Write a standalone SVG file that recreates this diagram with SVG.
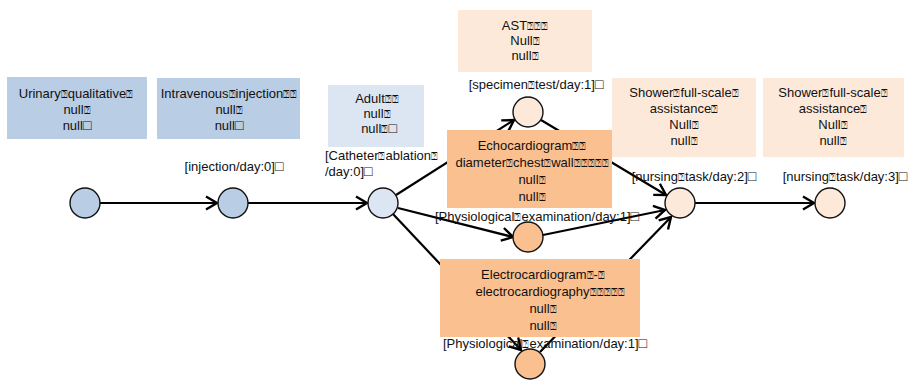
<svg xmlns="http://www.w3.org/2000/svg" width="908" height="380" viewBox="0 0 908 380">
<style>
text{font-family:"Liberation Sans",Arial,sans-serif;font-size:13px;fill:#111}
.c{text-anchor:middle}
.sq{font-size:14px}
.t{font-size:11px}
.edge{stroke:#000;stroke-width:2.2;fill:none;marker-end:url(#ah)}
.nd{stroke:#111;stroke-width:1.4}
.blue{fill:#b9cde5}
.pale{fill:#dce6f2}
.peach{fill:#fde9d9}
.orange{fill:#fac090}
</style>
<defs>
<marker id="ah" markerUnits="userSpaceOnUse" markerWidth="16" markerHeight="16" refX="12" refY="8" orient="auto">
<path d="M1,1.5 L12,8 L1,14.5" fill="none" stroke="#000" stroke-width="2.4"/>
</marker>
</defs>
<g id="connectors">
<line class="edge" x1="100" y1="203" x2="217" y2="203"/>
<line class="edge" x1="248" y1="203" x2="367" y2="203"/>
<line class="edge" x1="396" y1="195" x2="514" y2="120"/>
<line class="edge" x1="398" y1="208" x2="513" y2="237"/>
<line class="edge" x1="393" y1="214" x2="521" y2="350"/>
<line class="edge" x1="541" y1="120" x2="666" y2="195"/>
<line class="edge" x1="543" y1="235" x2="665" y2="210"/>
<line class="edge" x1="540" y1="352" x2="671" y2="217"/>
<line class="edge" x1="695" y1="203" x2="814" y2="203"/>
</g>
<g id="n1">
<rect class="blue" x="7" y="77" width="140" height="62"/>
<text class="c" x="76" y="98">Urinary<tspan class="t">⍰</tspan>qualitative<tspan class="t">⍰</tspan></text>
<text class="c" x="77" y="114">null<tspan class="t">⍰</tspan></text>
<text class="c" x="77" y="130">null<tspan class="sq">□</tspan></text>
<circle class="nd blue" cx="85" cy="203" r="15"/>
</g>
<g id="n2">
<rect class="blue" x="157" y="78" width="143" height="61"/>
<text class="c" x="229" y="98">Intravenous<tspan class="t">⍰</tspan>injection<tspan class="t">⍰⍰</tspan></text>
<text class="c" x="229" y="114">null<tspan class="t">⍰</tspan></text>
<text class="c" x="229" y="130">null<tspan class="sq">□</tspan></text>
<text class="c" x="234" y="171">[injection/day:0]<tspan class="sq">□</tspan></text>
<circle class="nd blue" cx="233" cy="203" r="15"/>
</g>
<g id="n3">
<rect class="pale" x="328" y="85" width="96" height="62"/>
<text class="c" x="377" y="103">Adult<tspan class="t">⍰⍰</tspan></text>
<text class="c" x="377" y="118">null<tspan class="t">⍰</tspan></text>
<text class="c" x="379" y="133">null<tspan class="t">⍰</tspan><tspan class="sq">□</tspan></text>
<text x="325" y="160">[Catheter<tspan class="t">⍰</tspan>ablation<tspan class="t">⍰</tspan></text>
<text x="325" y="176">/day:0]<tspan class="sq">□</tspan></text>
<circle class="nd pale" cx="383" cy="203" r="15"/>
</g>
<g id="n4">
<rect class="peach" x="458" y="10" width="134" height="62"/>
<text class="c" x="525" y="30">AST<tspan class="t">⍰⍰⍰</tspan></text>
<text class="c" x="525" y="45">Null<tspan class="t">⍰</tspan></text>
<text class="c" x="525" y="60">null<tspan class="t">⍰</tspan></text>
<text class="c" x="536" y="89">[specimen<tspan class="t">⍰</tspan>test/day:1]<tspan class="sq">□</tspan></text>
<circle class="nd peach" cx="528" cy="112" r="15"/>
</g>
<g id="n5">
<rect class="orange" x="447" y="130" width="165" height="78"/>
<text class="c" x="532" y="150">Echocardiogram<tspan class="t">⍰⍰</tspan></text>
<text class="c" x="532" y="167">diameter<tspan class="t">⍰</tspan>chest<tspan class="t">⍰</tspan>wall<tspan class="t">⍰⍰⍰⍰⍰</tspan></text>
<text class="c" x="532" y="184">null<tspan class="t">⍰</tspan></text>
<text class="c" x="532" y="201">null<tspan class="t">⍰</tspan></text>
<text class="c" x="537" y="221">[Physiological<tspan class="t">⍰</tspan>examination/day:1]<tspan class="sq">□</tspan></text>
<circle class="nd orange" cx="528" cy="237" r="15"/>
</g>
<g id="n6">
<rect class="orange" x="440" y="259" width="200" height="78"/>
<text class="c" x="543" y="279">Electrocardiogram<tspan class="t">⍰</tspan>-<tspan class="t">⍰</tspan></text>
<text class="c" x="550" y="296">electrocardiography<tspan class="t">⍰⍰⍰⍰⍰</tspan></text>
<text class="c" x="543" y="313">null<tspan class="t">⍰</tspan></text>
<text class="c" x="543" y="330">null<tspan class="t">⍰</tspan></text>
<text class="c" x="545" y="348">[Physiological<tspan class="t">⍰</tspan>examination/day:1]<tspan class="sq">□</tspan></text>
<circle class="nd orange" cx="530" cy="364" r="15"/>
</g>
<g id="n7">
<rect class="peach" x="612" y="78" width="144" height="79"/>
<text class="c" x="684" y="97">Shower<tspan class="t">⍰</tspan>full-scale<tspan class="t">⍰</tspan></text>
<text class="c" x="684" y="113">assistance<tspan class="t">⍰</tspan></text>
<text class="c" x="684" y="129">Null<tspan class="t">⍰</tspan></text>
<text class="c" x="684" y="145">null<tspan class="t">⍰</tspan></text>
<text class="c" x="694" y="181">[nursing<tspan class="t">⍰</tspan>task/day:2]<tspan class="sq">□</tspan></text>
<circle class="nd peach" cx="680" cy="203" r="15"/>
</g>
<g id="n8">
<rect class="peach" x="763" y="78" width="141" height="79"/>
<text class="c" x="833" y="97">Shower<tspan class="t">⍰</tspan>full-scale<tspan class="t">⍰</tspan></text>
<text class="c" x="833" y="113">assistance<tspan class="t">⍰</tspan></text>
<text class="c" x="833" y="129">Null<tspan class="t">⍰</tspan></text>
<text class="c" x="833" y="145">null<tspan class="t">⍰</tspan></text>
<text class="c" x="845" y="181">[nursing<tspan class="t">⍰</tspan>task/day:3]<tspan class="sq">□</tspan></text>
<circle class="nd peach" cx="830" cy="203" r="15"/>
</g>
</svg>
